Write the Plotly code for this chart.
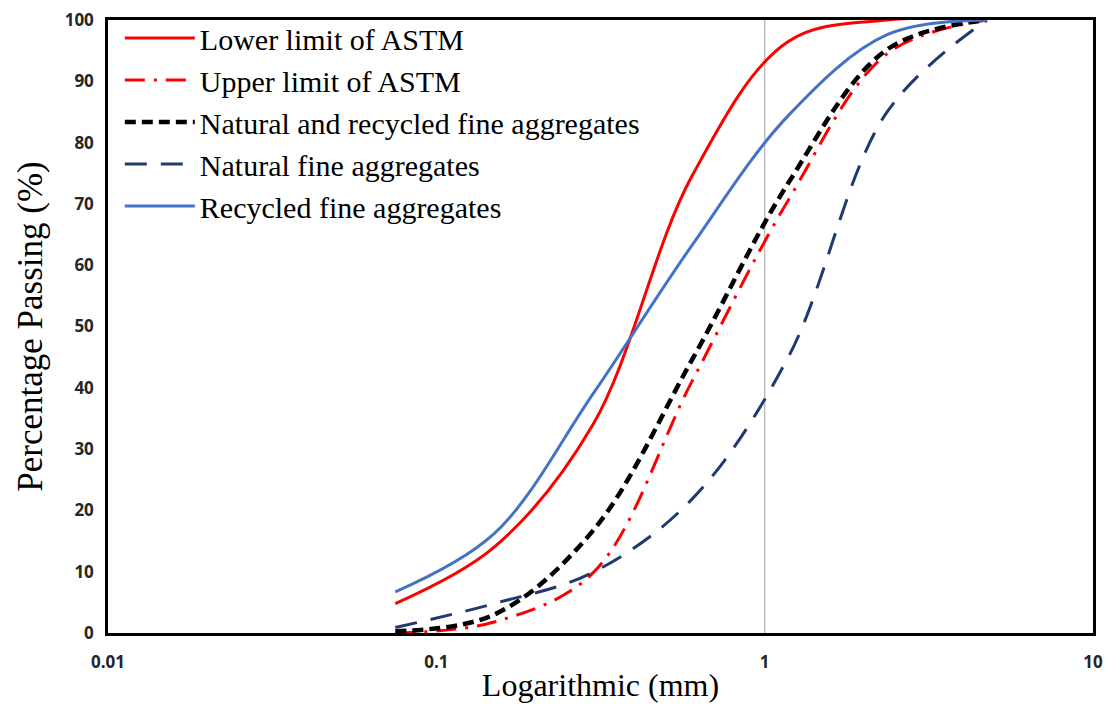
import plotly.graph_objects as go

# Sieve sizes (mm)
sieve = [0.075, 0.15, 0.3, 0.6, 1.18, 2.36, 4.75]

lower_astm = [4.8, 14.0, 34.0, 74.5, 96.5, 100.0, 100.0]
upper_astm = [0.0, 1.8, 9.8, 41.0, 70.6, 94.5, 100.0]
mixed_fa = [0.3, 3.0, 16.7, 44.5, 73.4, 95.2, 100.0]
natural_fa = [0.9, 4.8, 9.9, 21.8, 45.0, 85.0, 100.0]
recycled_fa = [6.7, 16.2, 39.0, 63.2, 84.4, 97.6, 100.0]

names = ["Lower limit of ASTM", "Upper limit of ASTM",
         "Natural and recycled fine aggregates", "Natural fine aggregates",
         "Recycled fine aggregates"]

x_ticks = [0.01, 0.1, 1, 10]
x_tick_labels = ["0.01", "0.1", "1", "10"]
y_ticks = list(range(0, 101, 10))

series = [lower_astm, upper_astm, mixed_fa, natural_fa, recycled_fa]
styles = [
    dict(color="#FF0000", width=3, dash="solid"),
    dict(color="#FF0000", width=3, dash="20px,9px,3px,9px"),
    dict(color="#000000", width=4.5, dash="11px,6px"),
    dict(color="#1F3A6E", width=3, dash="22px,14px"),
    dict(color="#4472C4", width=3, dash="solid"),
]

fig = go.Figure()
for name, ys, st in zip(names, series, styles):
    fig.add_trace(go.Scatter(
        x=sieve, y=ys, name=name, mode="lines",
        line=dict(color=st["color"], width=st["width"], dash=st["dash"],
                  shape="spline", smoothing=1.0),
    ))

fig.add_vline(x=1, line=dict(color="#BFBFBF", width=1.5), layer="below")

fig.update_layout(
    width=1110, height=704,
    margin=dict(l=108, r=17, t=20, b=71),
    paper_bgcolor="white", plot_bgcolor="white",
    showlegend=True,
    legend=dict(
        x=0.012, y=1.013, xanchor="left", yanchor="top",
        bgcolor="rgba(255,255,255,0)", borderwidth=0,
        font=dict(family="Liberation Serif", size=30, color="black"),
        tracegroupgap=0, itemwidth=70,
    ),
    xaxis=dict(
        type="log", range=[-2, 1], automargin=False,
        tickvals=x_ticks, ticktext=x_tick_labels,
        showgrid=False, zeroline=False,
        showline=True, linecolor="black", linewidth=2.5, mirror=True,
        ticks="", ticklabelstandoff=12,
        tickfont=dict(family="Open Sans", size=17, color="#262626", weight="bold"),
        title=dict(text="Logarithmic (mm)", standoff=2,
                   font=dict(family="Liberation Serif", size=32, color="black")),
    ),
    yaxis=dict(
        range=[0, 100], tickvals=y_ticks, automargin=False,
        showgrid=False, zeroline=False,
        showline=True, linecolor="black", linewidth=2.5, mirror=True,
        ticks="", ticklabelstandoff=8,
        tickfont=dict(family="Open Sans", size=17, color="#262626", weight="bold"),
        title=dict(text="Percentage Passing (%)", standoff=12,
                   font=dict(family="Liberation Serif", size=35, color="black")),
    ),
)

fig.write_html("out.html")
